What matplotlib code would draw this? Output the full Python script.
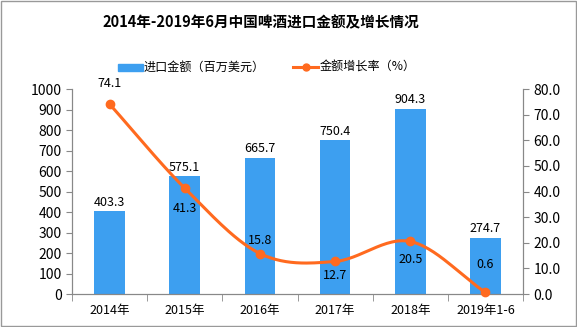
import numpy as np
import matplotlib.pyplot as plt
from matplotlib.patches import Rectangle

plt.rcParams['font.family'] = ['Noto Sans CJK SC', 'DejaVu Sans']

years = ["2014年", "2015年", "2016年", "2017年", "2018年", "2019年1-6"]
amount = [403.3, 575.1, 665.7, 750.4, 904.3, 274.7]
growth = [74.1, 41.3, 15.8, 12.7, 20.5, 0.6]
# label offset from point, in pixels (up positive)
growth_off = [21, -20, 13, -14, -18, 28]

bar_c = "#3d9ff0"
line_c = "#ff6a1f"
axis_c = "#888888"


def catmull(xs, ys, n=30):
    # smooth path through the points, for drawing only
    px = np.concatenate([[2 * xs[0] - xs[1]], xs, [2 * xs[-1] - xs[-2]]])
    py = np.concatenate([[2 * ys[0] - ys[1]], ys, [2 * ys[-1] - ys[-2]]])
    ox, oy = [], []
    for i in range(1, len(px) - 2):
        t = np.linspace(0, 1, n)
        for p, o in ((px, ox), (py, oy)):
            p0, p1, p2, p3 = p[i - 1], p[i], p[i + 1], p[i + 2]
            o.extend(0.5 * (2 * p1 + (-p0 + p2) * t + (2 * p0 - 5 * p1 + 4 * p2 - p3) * t**2
                            + (-p0 + 3 * p1 - 3 * p2 + p3) * t**3))
    return np.array(ox), np.array(oy)


fig = plt.figure(figsize=(5.77, 3.27), dpi=100)
ax = fig.add_axes([0.1248, 0.1009, 0.7816, 0.6269])
ax2 = ax.twinx()

x = np.arange(len(years))
ax.bar(x, amount, width=0.41, color=bar_c, zorder=2)
for xi, v in zip(x, amount):
    ax.annotate(f"{v:.1f}", (xi, v), xytext=(0, 9 * 0.72), textcoords="offset points",
                ha="center", va="center", fontsize=9)

sx, sy = catmull(x.astype(float), np.array(growth, dtype=float))
ax2.plot(sx, sy, color=line_c, lw=2.2, zorder=3, clip_on=False)
ax2.plot(x, growth, "o", color=line_c, ms=6, zorder=4, clip_on=False)
for xi, v, off in zip(x, growth, growth_off):
    ax2.annotate(f"{v:.1f}", (xi, v), xytext=(0, off * 0.72), textcoords="offset points",
                 ha="center", va="center", fontsize=9, zorder=5)

ax.set_xlim(-0.5, len(years) - 0.5)
ax.set_ylim(0, 1000)
ax.set_yticks(range(0, 1001, 100))
ax2.set_ylim(0, 80)
ax2.set_yticks(range(0, 81, 10))
ax2.set_yticklabels([f"{v:.1f}" for v in range(0, 81, 10)])

ax.set_xticks(x)
ax.set_xticklabels(years)
ax.set_xticks(np.arange(-0.5, len(years), 1), minor=True)
ax.tick_params(axis="x", which="major", length=0, labelsize=9, pad=7)
ax.tick_params(axis="x", which="minor", length=5, color=axis_c)
ax.tick_params(axis="y", length=4, color=axis_c, labelsize=10)
ax2.tick_params(axis="y", length=4, color=axis_c, labelsize=10)

for a in (ax, ax2):
    a.spines["top"].set_visible(False)
    for s in ("left", "right", "bottom"):
        a.spines[s].set_color(axis_c)

fig.text(261 / 577, 1 - 22 / 327, "2014年-2019年6月中国啤酒进口金额及增长情况",
         ha="center", va="center", fontsize=10.5, fontweight="bold")

# legend
fig.patches.append(Rectangle((118 / 577, 1 - 71 / 327), 25 / 577, 7 / 327,
                             transform=fig.transFigure, color=bar_c))
fig.text(144 / 577, 1 - 67 / 327, "进口金额（百万美元）", va="center", fontsize=8.7)
fig.lines.append(plt.Line2D([293 / 577, 318 / 577], [1 - 67 / 327] * 2,
                            transform=fig.transFigure, color=line_c, lw=2.2))
fig.lines.append(plt.Line2D([305.5 / 577], [1 - 67 / 327], transform=fig.transFigure,
                            color=line_c, marker="o", ms=5))
fig.text(320 / 577, 1 - 67 / 327, "金额增长率（%）", va="center", fontsize=8.7)

fig.patches.append(Rectangle((0.002, 0.003), 0.996, 0.994, transform=fig.transFigure,
                             fill=False, edgecolor="#999999", lw=1))

fig.savefig("out.png", dpi=100)
